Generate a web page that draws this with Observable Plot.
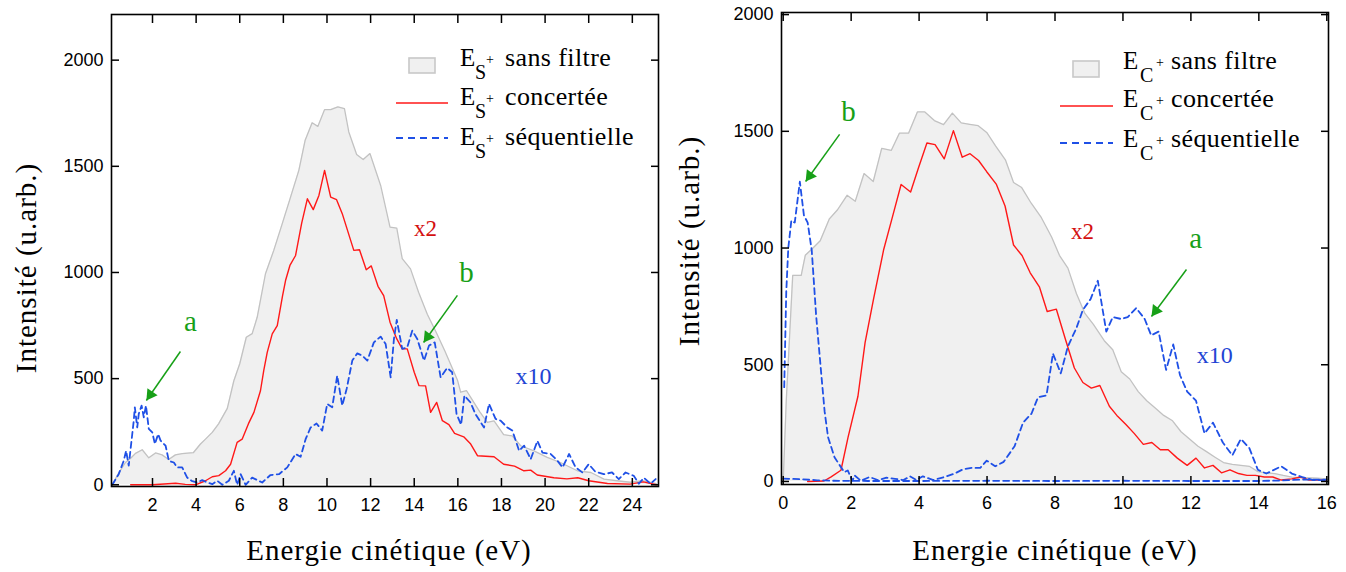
<!DOCTYPE html>
<html>
<head>
<meta charset="utf-8">
<script src="https://cdn.jsdelivr.net/npm/d3@7"></script>
<script src="https://cdn.jsdelivr.net/npm/@observablehq/plot@0.6"></script>
<style>
  body { margin: 0; background: #fff; }
  #wrap { display: flex; width: 1346px; height: 572px; overflow: hidden; }
  #wrap svg { display: block; flex: none; }
  .serif { font-family: "Liberation Serif", "Times New Roman", serif !important; }
</style>
</head>
<body>
<div id="wrap"></div>
<script>
// ---------- DATA (energy eV, intensity u.arb.) ----------
const leftSansFiltre = [[0.15,0],[0.45,55],[0.76,105],[1.0,125],[1.22,148],[1.53,165],[1.83,127],[2.14,150],[2.44,141],[2.74,119],[3.05,141],[3.36,147],[3.88,152],[4.2,192],[4.43,215],[4.74,247],[5.03,287],[5.43,360],[5.73,490],[6.0,570],[6.3,695],[6.57,712],[6.8,789],[7.18,994],[7.56,1104],[7.95,1230],[8.33,1355],[8.71,1481],[9.0,1623],[9.32,1705],[9.58,1688],[9.89,1767],[10.17,1767],[10.5,1780],[10.8,1772],[11.0,1662],[11.36,1556],[11.66,1532],[11.97,1560],[12.46,1410],[12.89,1214],[13.2,1209],[13.45,1065],[13.83,1017],[14.2,907],[14.6,803],[15.0,720],[15.4,631],[15.98,494],[16.13,436],[16.4,443],[16.59,412],[17.0,345],[17.35,294],[17.66,301],[18.1,236],[18.5,230],[18.88,184],[19.49,160],[20.1,129],[20.7,105],[21.48,66],[22.1,58],[22.7,27],[23.3,19],[23.9,12],[24.5,19],[25.1,5]];
const leftConcertee = [[1.0,0],[2.0,0],[3.06,7],[3.5,2],[3.97,0],[4.43,19],[4.74,38],[5.04,43],[5.35,66],[5.58,97],[5.88,200],[6.11,215],[6.4,288],[6.65,341],[6.95,443],[7.1,538],[7.26,624],[7.49,711],[7.72,750],[7.96,889],[8.1,962],[8.3,1033],[8.56,1080],[8.84,1232],[9.1,1347],[9.37,1296],[9.63,1363],[9.89,1481],[10.17,1355],[10.44,1343],[10.7,1277],[11.23,1104],[11.49,1107],[11.8,1013],[12.03,1031],[12.34,935],[12.6,891],[12.89,766],[13.2,687],[13.45,640],[13.68,640],[14.0,530],[14.22,467],[14.52,466],[14.75,341],[15.03,388],[15.29,302],[15.59,283],[15.85,242],[16.27,226],[16.59,192],[16.9,137],[17.66,132],[18.1,97],[18.6,88],[19.03,66],[19.34,69],[19.64,46],[20.4,33],[21.0,28],[21.5,33],[22.0,19],[22.86,6],[23.9,3],[24.5,14],[25.1,0]];
const leftSequentielle = [[0.15,0],[0.22,11],[0.45,50],[0.68,113],[0.79,160],[0.91,90],[1.14,302],[1.19,365],[1.3,270],[1.37,334],[1.5,373],[1.6,318],[1.7,373],[1.83,263],[1.99,247],[2.11,192],[2.26,239],[2.37,208],[2.6,184],[2.75,113],[2.98,105],[3.13,82],[3.36,82],[3.59,34],[3.79,19],[4.05,11],[4.28,22],[4.51,11],[4.74,3],[4.97,19],[5.2,0],[5.5,19],[5.73,66],[5.88,0],[6.04,50],[6.27,0],[6.57,34],[7.03,11],[7.41,46],[7.8,50],[8.18,82],[8.56,145],[8.79,132],[9.02,215],[9.25,270],[9.52,289],[9.78,255],[10.01,381],[10.24,365],[10.47,514],[10.7,373],[10.9,451],[11.16,585],[11.39,619],[11.62,608],[11.85,585],[12.15,671],[12.46,698],[12.69,663],[12.92,506],[13.07,687],[13.2,777],[13.45,640],[13.68,648],[13.91,726],[14.14,687],[14.45,585],[14.68,656],[14.94,671],[15.21,506],[15.51,550],[15.74,530],[15.94,334],[16.15,283],[16.3,420],[16.58,388],[16.8,334],[17.2,270],[17.43,381],[17.73,310],[17.96,302],[18.27,270],[18.5,255],[18.81,160],[19.04,184],[19.34,121],[19.65,207],[19.88,152],[20.26,145],[20.57,113],[20.8,82],[21.1,145],[21.4,82],[21.71,58],[22.0,97],[22.3,62],[22.69,50],[23.07,58],[23.38,27],[23.69,58],[24.07,42],[24.3,5],[24.53,33],[24.84,5],[25.07,27]];

const rightSansFiltre = [[0.0,0],[0.09,346],[0.28,883],[0.53,883],[0.65,969],[0.84,995],[1.09,1031],[1.36,1125],[1.6,1164],[1.88,1226],[2.12,1200],[2.38,1319],[2.65,1285],[2.9,1427],[3.18,1418],[3.42,1492],[3.69,1492],[3.95,1583],[4.17,1583],[4.45,1546],[4.72,1529],[4.98,1578],[5.24,1536],[5.49,1530],[5.74,1524],[5.99,1495],[6.25,1438],[6.54,1378],[6.78,1281],[7.02,1259],[7.3,1192],[7.6,1130],[7.9,1047],[8.13,969],[8.38,914],[8.63,805],[8.88,720],[9.13,673],[9.45,603],[9.7,564],[9.95,470],[10.2,439],[10.45,385],[10.7,346],[10.95,315],[11.2,283],[11.46,260],[11.71,213],[11.96,182],[12.21,151],[12.46,128],[12.71,104],[12.96,81],[13.22,73],[13.47,69],[13.72,65],[13.97,42],[14.22,37],[14.47,34],[14.72,26],[14.97,19],[15.35,16],[15.73,14],[15.98,11]];
const rightConcertee = [[0.72,0],[1.2,2],[1.41,20],[1.7,48],[1.91,190],[2.2,365],[2.41,595],[2.66,782],[2.96,995],[3.2,1125],[3.47,1272],[3.75,1240],[3.98,1343],[4.23,1450],[4.47,1443],[4.74,1382],[5.01,1503],[5.27,1389],[5.5,1404],[5.75,1375],[5.99,1327],[6.27,1274],[6.53,1180],[6.78,1013],[7.03,968],[7.27,894],[7.54,834],[7.77,728],[8.04,738],[8.32,603],[8.57,486],[8.82,424],[9.07,400],[9.32,411],[9.6,322],[9.82,283],[10.08,245],[10.33,206],[10.6,159],[10.85,167],[11.1,136],[11.33,136],[11.6,100],[11.89,69],[12.15,100],[12.4,58],[12.65,69],[12.9,37],[13.15,50],[13.4,34],[13.65,26],[13.9,26],[14.16,19],[14.41,19],[14.66,6],[14.97,11],[15.23,19],[15.48,6],[15.73,6],[15.98,6]];
const rightSequentielle = [[0.03,404],[0.09,813],[0.15,1000],[0.24,1118],[0.34,1109],[0.49,1284],[0.61,1140],[0.72,1109],[0.84,990],[0.97,710],[1.12,461],[1.22,299],[1.32,190],[1.51,104],[1.66,70],[1.8,40],[1.9,47],[2.04,3],[2.1,26],[2.29,3],[2.54,19],[2.79,6],[3.04,16],[3.29,11],[3.54,6],[3.73,22],[3.92,6],[4.11,22],[4.42,6],[4.74,19],[5.05,34],[5.3,53],[5.55,58],[5.8,58],[5.99,89],[6.24,65],[6.49,84],[6.81,151],[7.06,252],[7.31,291],[7.5,361],[7.75,369],[7.94,548],[8.17,463],[8.38,579],[8.63,657],[8.82,735],[9.05,782],[9.26,860],[9.51,642],[9.7,704],[9.95,696],[10.14,704],[10.39,743],[10.64,696],[10.83,626],[11.05,642],[11.27,478],[11.48,587],[11.68,455],[11.89,385],[12.15,346],[12.4,206],[12.65,252],[12.94,167],[13.22,112],[13.47,182],[13.72,143],[13.97,50],[14.22,34],[14.66,65],[14.97,34],[15.28,19],[15.6,6],[15.98,6]];
const rightSequentielleFond = [[0.0,12],[0.5,10],[1.0,5],[1.5,3],[2.5,2],[4.0,2],[6.0,3],[8.0,2],[10.0,3],[12.0,2],[14.0,2],[14.6,4],[15.2,8],[16.0,8]];

const leftXTicks = [2,4,6,8,10,12,14,16,18,20,22,24];
const rightXTicks = [0,2,4,6,8,10,12,14,16];
const yTicks = [0,500,1000,1500,2000];

const leftSymbol = "S";
const rightSymbol = "C";
const legendWords = ["sans filtre", "concertée", "séquentielle"];
const xTitle = "Energie cinétique (eV)";
const yTitle = "Intensité (u.arb.)";

// annotations (data coordinates)
const leftNotes = [
  {x: 3.74, y: 770, t: "a", c: "#17a017", s: 29},
  {x: 16.40, y: 1000, t: "b", c: "#17a017", s: 29},
  {x: 14.52, y: 1207, t: "x2", c: "#d41010", s: 23},
  {x: 19.47, y: 510, t: "x10", c: "#2244d4", s: 24}
];
const leftArrows = [
  {x1: 3.28, y1: 628, x2: 1.72, y2: 397},
  {x1: 15.98, y1: 892, x2: 14.43, y2: 670}
];
const rightNotes = [
  {x: 1.92, y: 1585, t: "b", c: "#17a017", s: 29},
  {x: 12.14, y: 1040, t: "a", c: "#17a017", s: 29},
  {x: 8.81, y: 1071, t: "x2", c: "#d41010", s: 23},
  {x: 12.7, y: 540, t: "x10", c: "#2244d4", s: 24}
];
const rightArrows = [
  {x1: 1.66, y1: 1487, x2: 0.66, y2: 1285},
  {x1: 11.87, y1: 908, x2: 10.84, y2: 707}
];

// ---------- DRAWING ----------
const SERIF = "'Liberation Serif', 'Times New Roman', serif";
const SANS = "'Liberation Sans', Arial, sans-serif";
const GREEN = "#17a017";
const toObj = a => a.map(([E, I]) => ({E, I}));

function panel(cfg) {
  const H = 572;
  const kx = (cfg.width - cfg.ml - cfg.mr) / (cfg.xDomain[1] - cfg.xDomain[0]);
  const ky = (H - cfg.mt - cfg.mb) / (cfg.yDomain[1] - cfg.yDomain[0]);
  const marks = [
    Plot.areaY(toObj(cfg.gray), {x: "E", y: "I", fill: "#f0f0f0"}),
    Plot.lineY(toObj(cfg.gray), {x: "E", y: "I", stroke: "#c2c2c2", strokeWidth: 1.3}),
    Plot.lineY(toObj(cfg.red), {x: "E", y: "I", stroke: "#ff1818", strokeWidth: 1.4}),
    ...cfg.blues.map(b => Plot.lineY(toObj(b), {x: "E", y: "I", stroke: "#1f50e6", strokeWidth: 1.8, strokeDasharray: "6,4"})),
    ...cfg.notes.map(n => Plot.text([n], {x: "x", y: "y", text: "t", fill: n.c, fontSize: n.s, fontFamily: SERIF})),
  ];
  cfg.arrows.forEach(a => {
    const dxp = (a.x2 - a.x1) * kx, dyp = -(a.y2 - a.y1) * ky;
    const len = Math.hypot(dxp, dyp), ux = dxp / len, uy = dyp / len;
    const theta = Math.atan2(dxp, -dyp) * 180 / Math.PI;
    const r = 4.6;
    const apex = 2 * Math.sqrt(Math.PI * r * r / (Math.sqrt(3) * 3));
    marks.push(Plot.link([a], {x1: "x1", y1: "y1", x2: "x2", y2: "y2", stroke: GREEN, strokeWidth: 1.5}));
    marks.push(Plot.dot([a], {x: "x2", y: "y2", symbol: "triangle", r, fill: GREEN, stroke: "none", rotate: theta, dx: -ux * apex, dy: -uy * apex}));
  });
  marks.push(
    Plot.axisY({anchor: "left", ticks: yTicks, tickSize: 0, tickPadding: 8, tickFormat: d => String(d), label: null, fontSize: 18, fontFamily: SANS}),
    Plot.axisY({anchor: "left", ticks: yTicks, tickSize: -8, fill: "none", label: null, strokeWidth: 1.5}),
    Plot.axisY({anchor: "right", ticks: yTicks, tickSize: -8, fill: "none", label: null, strokeWidth: 1.5}),
    Plot.axisX({anchor: "bottom", ticks: cfg.xTicks, tickSize: 0, tickPadding: 12, tickFormat: d => String(d), label: null, fontSize: 18, fontFamily: SANS}),
    Plot.axisX({anchor: "bottom", ticks: cfg.xTicks, tickSize: -8, fill: "none", label: null, strokeWidth: 1.5}),
    Plot.axisX({anchor: "top", ticks: cfg.xTicks, tickSize: -8, fill: "none", label: null, strokeWidth: 1.5}),
    Plot.frame({stroke: "#000", strokeWidth: 1.6})
  );
  const chart = Plot.plot({
    width: cfg.width, height: H,
    marginLeft: cfg.ml, marginRight: cfg.mr, marginTop: cfg.mt, marginBottom: cfg.mb,
    x: {domain: cfg.xDomain},
    y: {domain: cfg.yDomain},
    style: {fontFamily: SANS, fontSize: "18px", color: "#000", background: "#fff", overflow: "visible"},
    marks
  });

  const svg = d3.select(chart);
  const g = svg.append("g").attr("class", "serif").style("font-family", SERIF).attr("fill", "#000").attr("text-anchor", "start");
  const txt = () => g.append("text").attr("class", "serif").style("font-family", SERIF).attr("text-anchor", "start");
  // axis titles
  txt().attr("x", cfg.xt[0]).attr("y", cfg.xt[1]).attr("text-anchor", "middle")
    .attr("font-size", 29).attr("letter-spacing", "1px").text(xTitle);
  txt().attr("transform", `translate(${cfg.yt[0]},${cfg.yt[1]}) rotate(-90)`)
    .attr("text-anchor", "middle").attr("dominant-baseline", "central")
    .attr("font-size", 29).attr("letter-spacing", "1px").text(yTitle);
  // legend
  const L = cfg.legend;
  g.append("rect").attr("x", L.sw[0]).attr("y", L.sw[1]).attr("width", L.sw[2]).attr("height", L.sw[3])
    .attr("fill", "#f0f0f0").attr("stroke", "#c8c8c8").attr("stroke-width", 1.6);
  g.append("line").attr("x1", L.lx[0]).attr("x2", L.lx[1]).attr("y1", L.ly[0]).attr("y2", L.ly[0])
    .attr("stroke", "#ff1818").attr("stroke-width", 1.6);
  g.append("line").attr("x1", L.lx[0]).attr("x2", L.lx[1]).attr("y1", L.ly[1]).attr("y2", L.ly[1])
    .attr("stroke", "#1f50e6").attr("stroke-width", 1.8).attr("stroke-dasharray", "7,5");
  legendWords.forEach((w, i) => {
    const b = L.base[i];
    txt().attr("x", L.tx[0]).attr("y", b).attr("font-size", 25).text("E");
    txt().attr("x", L.tx[1]).attr("y", b + 13).attr("font-size", 20).text(cfg.sym);
    txt().attr("x", L.tx[2]).attr("y", b - 2).attr("font-size", 14).text("+");
    txt().attr("x", L.tx[3]).attr("y", b).attr("font-size", 26).attr("letter-spacing", "0.4px").text(w);
  });
  return chart;
}

const wrap = document.getElementById("wrap");
wrap.appendChild(panel({
  width: 673, ml: 111, mr: 15, mt: 14, mb: 86,
  xDomain: [0.12, 25.2], yDomain: [-8, 2215], xTicks: leftXTicks,
  gray: leftSansFiltre, red: leftConcertee, blues: [leftSequentielle],
  notes: leftNotes, arrows: leftArrows, sym: leftSymbol,
  xt: [389, 560], yt: [26, 268],
  legend: {sw: [409, 58, 26, 15], lx: [396, 448], ly: [103, 138], tx: [460, 475, 486, 505], base: [66, 105, 145]}
}));
wrap.appendChild(panel({
  width: 673, ml: 108, mr: 18, mt: 12, mb: 88,
  xDomain: [-0.05, 16.05], yDomain: [-13, 2009], xTicks: rightXTicks,
  gray: rightSansFiltre, red: rightConcertee, blues: [rightSequentielleFond, rightSequentielle],
  notes: rightNotes, arrows: rightArrows, sym: rightSymbol,
  xt: [382, 560], yt: [16, 241],
  legend: {sw: [400, 61, 26, 16], lx: [387, 440], ly: [106, 143], tx: [450, 467, 483, 498], base: [69, 107, 147]}
}));
</script>
</body>
</html>
